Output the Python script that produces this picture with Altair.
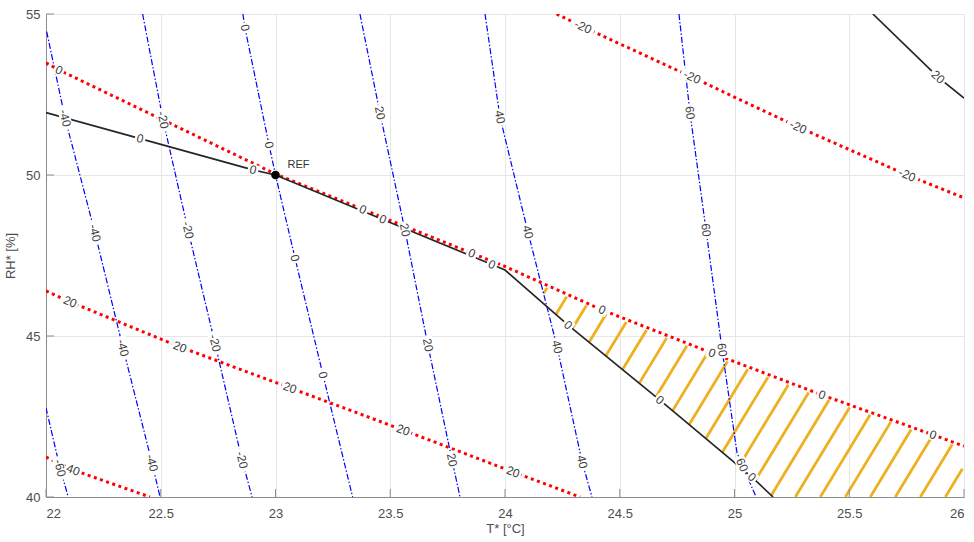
import math
import numpy as np
import pandas as pd
import altair as alt

# ---------------- plot geometry ----------------
W, H = 918, 483
X0, X1 = 22.0, 26.0
Y0, Y1 = 40.0, 55.0
SX = W / (X1 - X0)
SY = H / (Y1 - Y0)

# ---------------- data ----------------
# blue dash-dot contours (T*, RH*)
b_m60_x = [22.0, 22.061, 22.097]
b_m60_y = [42.77, 40.90, 40.0]
b_m40_x = [22.003, 22.083, 22.2135, 22.3355, 22.462, 22.497]
b_m40_y = [54.45, 51.77, 48.20, 44.63, 41.06, 40.0]
b_m20_x = [22.421, 22.510, 22.619, 22.736, 22.854, 22.898]
b_m20_y = [55.0, 51.71, 48.29, 44.78, 41.15, 40.0]
b_0_x = [22.858, 22.867, 22.972, 23.0, 23.085, 23.207, 23.336]
b_0_y = [55.0, 54.57, 50.93, 50.0, 47.42, 43.79, 40.0]
b_20_x = [23.368, 23.455, 23.564, 23.664, 23.769, 23.804]
b_20_y = [55.0, 51.93, 48.29, 44.72, 41.15, 40.0]
b_40_x = [23.913, 23.978, 24.100, 24.227, 24.336, 24.379]
b_40_y = [55.0, 51.80, 48.23, 44.66, 41.09, 40.0]
b_60_x = [24.758, 24.806, 24.876, 24.946, 25.011, 25.033, 25.094]
b_60_y = [55.0, 51.93, 48.29, 44.57, 41.37, 41.0, 40.0]

# red dotted contours
r_m20_x = [24.225, 24.340, 24.815, 25.277, 25.752, 26.0]
r_m20_y = [55.0, 54.60, 53.04, 51.49, 50.0, 49.29]
r_0_x = [22.0, 22.057, 23.0, 23.381, 23.856, 24.0, 24.423, 24.902, 25.381, 25.865, 26.0]
r_0_y = [53.48, 53.26, 50.03, 48.93, 47.57, 47.16, 45.81, 44.47, 43.17, 41.93, 41.58]
r_20_x = [22.0, 22.105, 22.584, 23.063, 23.556, 24.035, 24.327]
r_20_y = [46.40, 46.06, 44.66, 43.39, 42.08, 40.78, 40.0]
r_40_x = [22.0, 22.118, 22.453]
r_40_y = [41.24, 40.84, 40.0]

# black solid contours
k_0_x = [22.0, 22.41, 22.902, 23.0, 23.468, 23.943, 24.0, 24.275, 24.675, 25.076, 25.168]
k_0_y = [51.94, 51.13, 50.16, 50.0, 48.62, 47.22, 47.05, 45.34, 43.01, 40.62, 40.0]
k_20_x = [25.603, 25.887, 26.0]
k_20_y = [55.0, 53.04, 52.39]

# contour labels: line id, text, T*, RH*
lab_line = (["b_m60"] + ["b_m40"] * 4 + ["b_m20"] * 4 + ["b_0"] * 4 + ["b_20"] * 4 + ["b_40"] * 4 + ["b_60"] * 4
            + ["r_m20"] * 4 + ["r_0"] * 7 + ["r_20"] * 5 + ["r_40"] + ["k_0"] * 7 + ["k_20"])
lab_text = (["-60"] + ["-40"] * 4 + ["-20"] * 4 + ["0"] * 4 + ["20"] * 4 + ["40"] * 4 + ["60"] * 4
            + ["-20"] * 4 + ["0"] * 7 + ["20"] * 5 + ["40"] + ["0"] * 7 + ["20"])
lab_x = ([22.061] + [22.083, 22.2135, 22.3355, 22.462] + [22.510, 22.619, 22.736, 22.854]
         + [22.867, 22.972, 23.085, 23.207] + [23.455, 23.564, 23.664, 23.769]
         + [23.978, 24.100, 24.227, 24.336] + [24.806, 24.876, 24.946, 25.033]
         + [24.340, 24.815, 25.277, 25.752]
         + [22.057, 23.381, 23.856, 24.423, 24.902, 25.381, 25.865]
         + [22.105, 22.584, 23.063, 23.556, 24.035] + [22.118]
         + [22.41, 22.902, 23.468, 23.943, 24.275, 24.675, 25.076] + [25.887])
lab_y = ([40.90] + [51.77, 48.20, 44.63, 41.06] + [51.71, 48.29, 44.78, 41.15]
         + [54.57, 50.93, 47.42, 43.79] + [51.93, 48.29, 44.72, 41.15]
         + [51.80, 48.23, 44.66, 41.09] + [51.93, 48.29, 44.57, 41.0]
         + [54.60, 53.04, 51.49, 50.0]
         + [53.26, 48.93, 47.57, 45.81, 44.47, 43.17, 41.93]
         + [46.06, 44.66, 43.39, 42.08, 40.78] + [40.84]
         + [51.13, 50.16, 48.62, 47.22, 45.34, 43.01, 40.62] + [53.04])

ref_x = [23.0]
ref_y = [50.0]
ref_text = ["REF"]

x_ticks = [22, 22.5, 23, 23.5, 24, 24.5, 25, 25.5, 26]
y_ticks = [40, 45, 50, 55]

LINES = {
    "b_m60": ("blue", b_m60_x, b_m60_y), "b_m40": ("blue", b_m40_x, b_m40_y),
    "b_m20": ("blue", b_m20_x, b_m20_y), "b_0": ("blue", b_0_x, b_0_y),
    "b_20": ("blue", b_20_x, b_20_y), "b_40": ("blue", b_40_x, b_40_y),
    "b_60": ("blue", b_60_x, b_60_y),
    "r_m20": ("red", r_m20_x, r_m20_y), "r_0": ("red", r_0_x, r_0_y),
    "r_20": ("red", r_20_x, r_20_y), "r_40": ("red", r_40_x, r_40_y),
    "k_0": ("black", k_0_x, k_0_y), "k_20": ("black", k_20_x, k_20_y),
}

# ---------------- tables ----------------
rows = []
for name, (kind, xs, ys) in LINES.items():
    for i, (x, y) in enumerate(zip(xs, ys)):
        rows.append(dict(line=name, kind=kind, x=x, y=y, o=i))
lines_df = pd.DataFrame(rows)


def label_angle(line, lx, ly):
    _, xs, ys = LINES[line]
    d = [math.hypot((x - lx) * SX, (y - ly) * SY) for x, y in zip(xs, ys)]
    j = int(np.argmin(d))
    a, b = max(j - 1, 0), min(j + 1, len(xs) - 1)
    dx = (xs[b] - xs[a]) * SX
    dy = -(ys[b] - ys[a]) * SY
    return math.degrees(math.atan2(dy, dx)) % 360


lab_rows = []
for ln, t, x, y in zip(lab_line, lab_text, lab_x, lab_y):
    w = 6.7 * len(t) + 4
    h = 11.0
    s = max(w, h)
    path = f"M{-w/s:.3f},{-h/s:.3f}H{w/s:.3f}V{h/s:.3f}H{-w/s:.3f}Z"
    lab_rows.append(dict(x=x, y=y, t=t, a=label_angle(ln, x, y), shape=path, size=s * s))
lab_df = pd.DataFrame(lab_rows)

# hatch of the region between black 0 and red 0, right of blue 40
HATCH_C0 = 25.156            # T* where one hatch line meets RH* = 40
HATCH_STEP = 25.0 / SX       # 25 px apart
HATCH_SLOPE = 1.65 * SX / SY  # 1.65 px up per px right
TOP_GAP = 2.5 / SY           # small gap under the red line
xs_f = np.linspace(24.0, 26.0, 8001)
lower = np.maximum(np.interp(xs_f, k_0_x, k_0_y), Y0)
upper = np.interp(xs_f, r_0_x, r_0_y) - TOP_GAP
b40_y_inc = b_40_y[::-1]
b40_x_inc = b_40_x[::-1]
hrows = []
for k in range(-20, 12):
    c = HATCH_C0 + k * HATCH_STEP
    ys_f = Y0 + HATCH_SLOPE * (xs_f - c)
    left = np.interp(ys_f, b40_y_inc, b40_x_inc)
    m = (ys_f >= lower) & (ys_f <= upper) & (xs_f >= left) & (xs_f <= X1 - 1.5 / SX)
    idx = np.where(m)[0]
    if len(idx) < 2:
        continue
    i1, i2 = idx[0], idx[-1]
    hrows.append(dict(x=xs_f[i1], y=ys_f[i1], x2=xs_f[i2], y2=ys_f[i2]))
hatch_df = pd.DataFrame(hrows)

ref_df = pd.DataFrame(dict(x=ref_x, y=ref_y, t=ref_text))
xt_df = pd.DataFrame(dict(x=x_ticks))
yt_df = pd.DataFrame(dict(y=y_ticks))

# ---------------- chart ----------------
FONT = "Liberation Sans"
TXT = "#4d4d4d"
xs_ = alt.Scale(domain=[X0, X1], nice=False, zero=False)
ys_ = alt.Scale(domain=[Y0, Y1], nice=False, zero=False)

x_axis = alt.Axis(values=x_ticks, labelExpr="'' + datum.value", grid=True, gridColor="#e6e6e6",
                  domainColor="#8c8c8c", ticks=False, labelFont=FONT, labelFontSize=13,
                  labelColor=TXT, labelPadding=10, title="T* [°C]", titleFont=FONT,
                  titleFontSize=13, titleFontWeight="normal", titleColor=TXT, titlePadding=2)
y_axis = alt.Axis(values=y_ticks, labelExpr="'' + datum.value", grid=True, gridColor="#e6e6e6",
                  domainColor="#8c8c8c", ticks=False, labelFont=FONT, labelFontSize=13,
                  labelColor=TXT, labelPadding=6, title="RH* [%]", titleFont=FONT,
                  titleFontSize=13, titleFontWeight="normal", titleColor=TXT, titlePadding=8)

X = alt.X("x:Q", scale=xs_, axis=x_axis, title="T* [°C]")
Y = alt.Y("y:Q", scale=ys_, axis=y_axis, title="RH* [%]")

hatch = alt.Chart(hatch_df).mark_rule(color="#EDB120", strokeWidth=2.8, clip=True).encode(
    x=X, y=Y, x2="x2:Q", y2="y2:Q")

blue = alt.Chart(lines_df[lines_df.kind == "blue"]).mark_line(
    color="#0000ff", strokeWidth=1.2, strokeDash=[6, 2, 1.5, 2], clip=True).encode(
    x=X, y=Y, detail="line:N", order="o:Q")
red = alt.Chart(lines_df[lines_df.kind == "red"]).mark_line(
    color="#ff0000", strokeWidth=3, strokeDash=[3, 3.5], clip=True).encode(
    x=X, y=Y, detail="line:N", order="o:Q")
black = alt.Chart(lines_df[lines_df.kind == "black"]).mark_line(
    color="#262626", strokeWidth=1.7, clip=True).encode(
    x=X, y=Y, detail="line:N", order="o:Q")

boxes = alt.Chart(lab_df).mark_point(filled=True, color="white", opacity=1, strokeWidth=0).encode(
    x=X, y=Y, shape=alt.Shape("shape:N", scale=None), size=alt.Size("size:Q", scale=None),
    angle=alt.Angle("a:Q", scale=None))
labels = alt.Chart(lab_df).mark_text(font=FONT, fontSize=12, color="#404040",
                                     align="center", baseline="middle").encode(
    x=X, y=Y, text="t:N", angle=alt.Angle("a:Q", scale=None))

ref_pt = alt.Chart(ref_df).mark_circle(size=75, color="black", opacity=1).encode(x=X, y=Y)
ref_lab = alt.Chart(ref_df).mark_text(font=FONT, fontSize=11, color="#333333", align="left",
                                      dx=12, dy=-10).encode(x=X, y=Y, text="t:N")

xticks = alt.Chart(xt_df).mark_rule(color="#8c8c8c", strokeWidth=1).encode(
    x=X, y=alt.value(H), y2=alt.value(H - 8))
yticks = alt.Chart(yt_df).mark_rule(color="#8c8c8c", strokeWidth=1).encode(
    y=Y, x=alt.value(0), x2=alt.value(8))

chart = alt.layer(hatch, blue, red, black, boxes, labels, ref_pt, ref_lab, xticks, yticks).properties(
    width=W, height=H, autosize=alt.AutoSizeParams(type="none"),
    padding={"left": 46, "top": 14, "right": 10, "bottom": 45},
    background="white",
).configure_view(stroke=None)

chart.save("out.html", embed_options={"renderer": "svg", "actions": False})
